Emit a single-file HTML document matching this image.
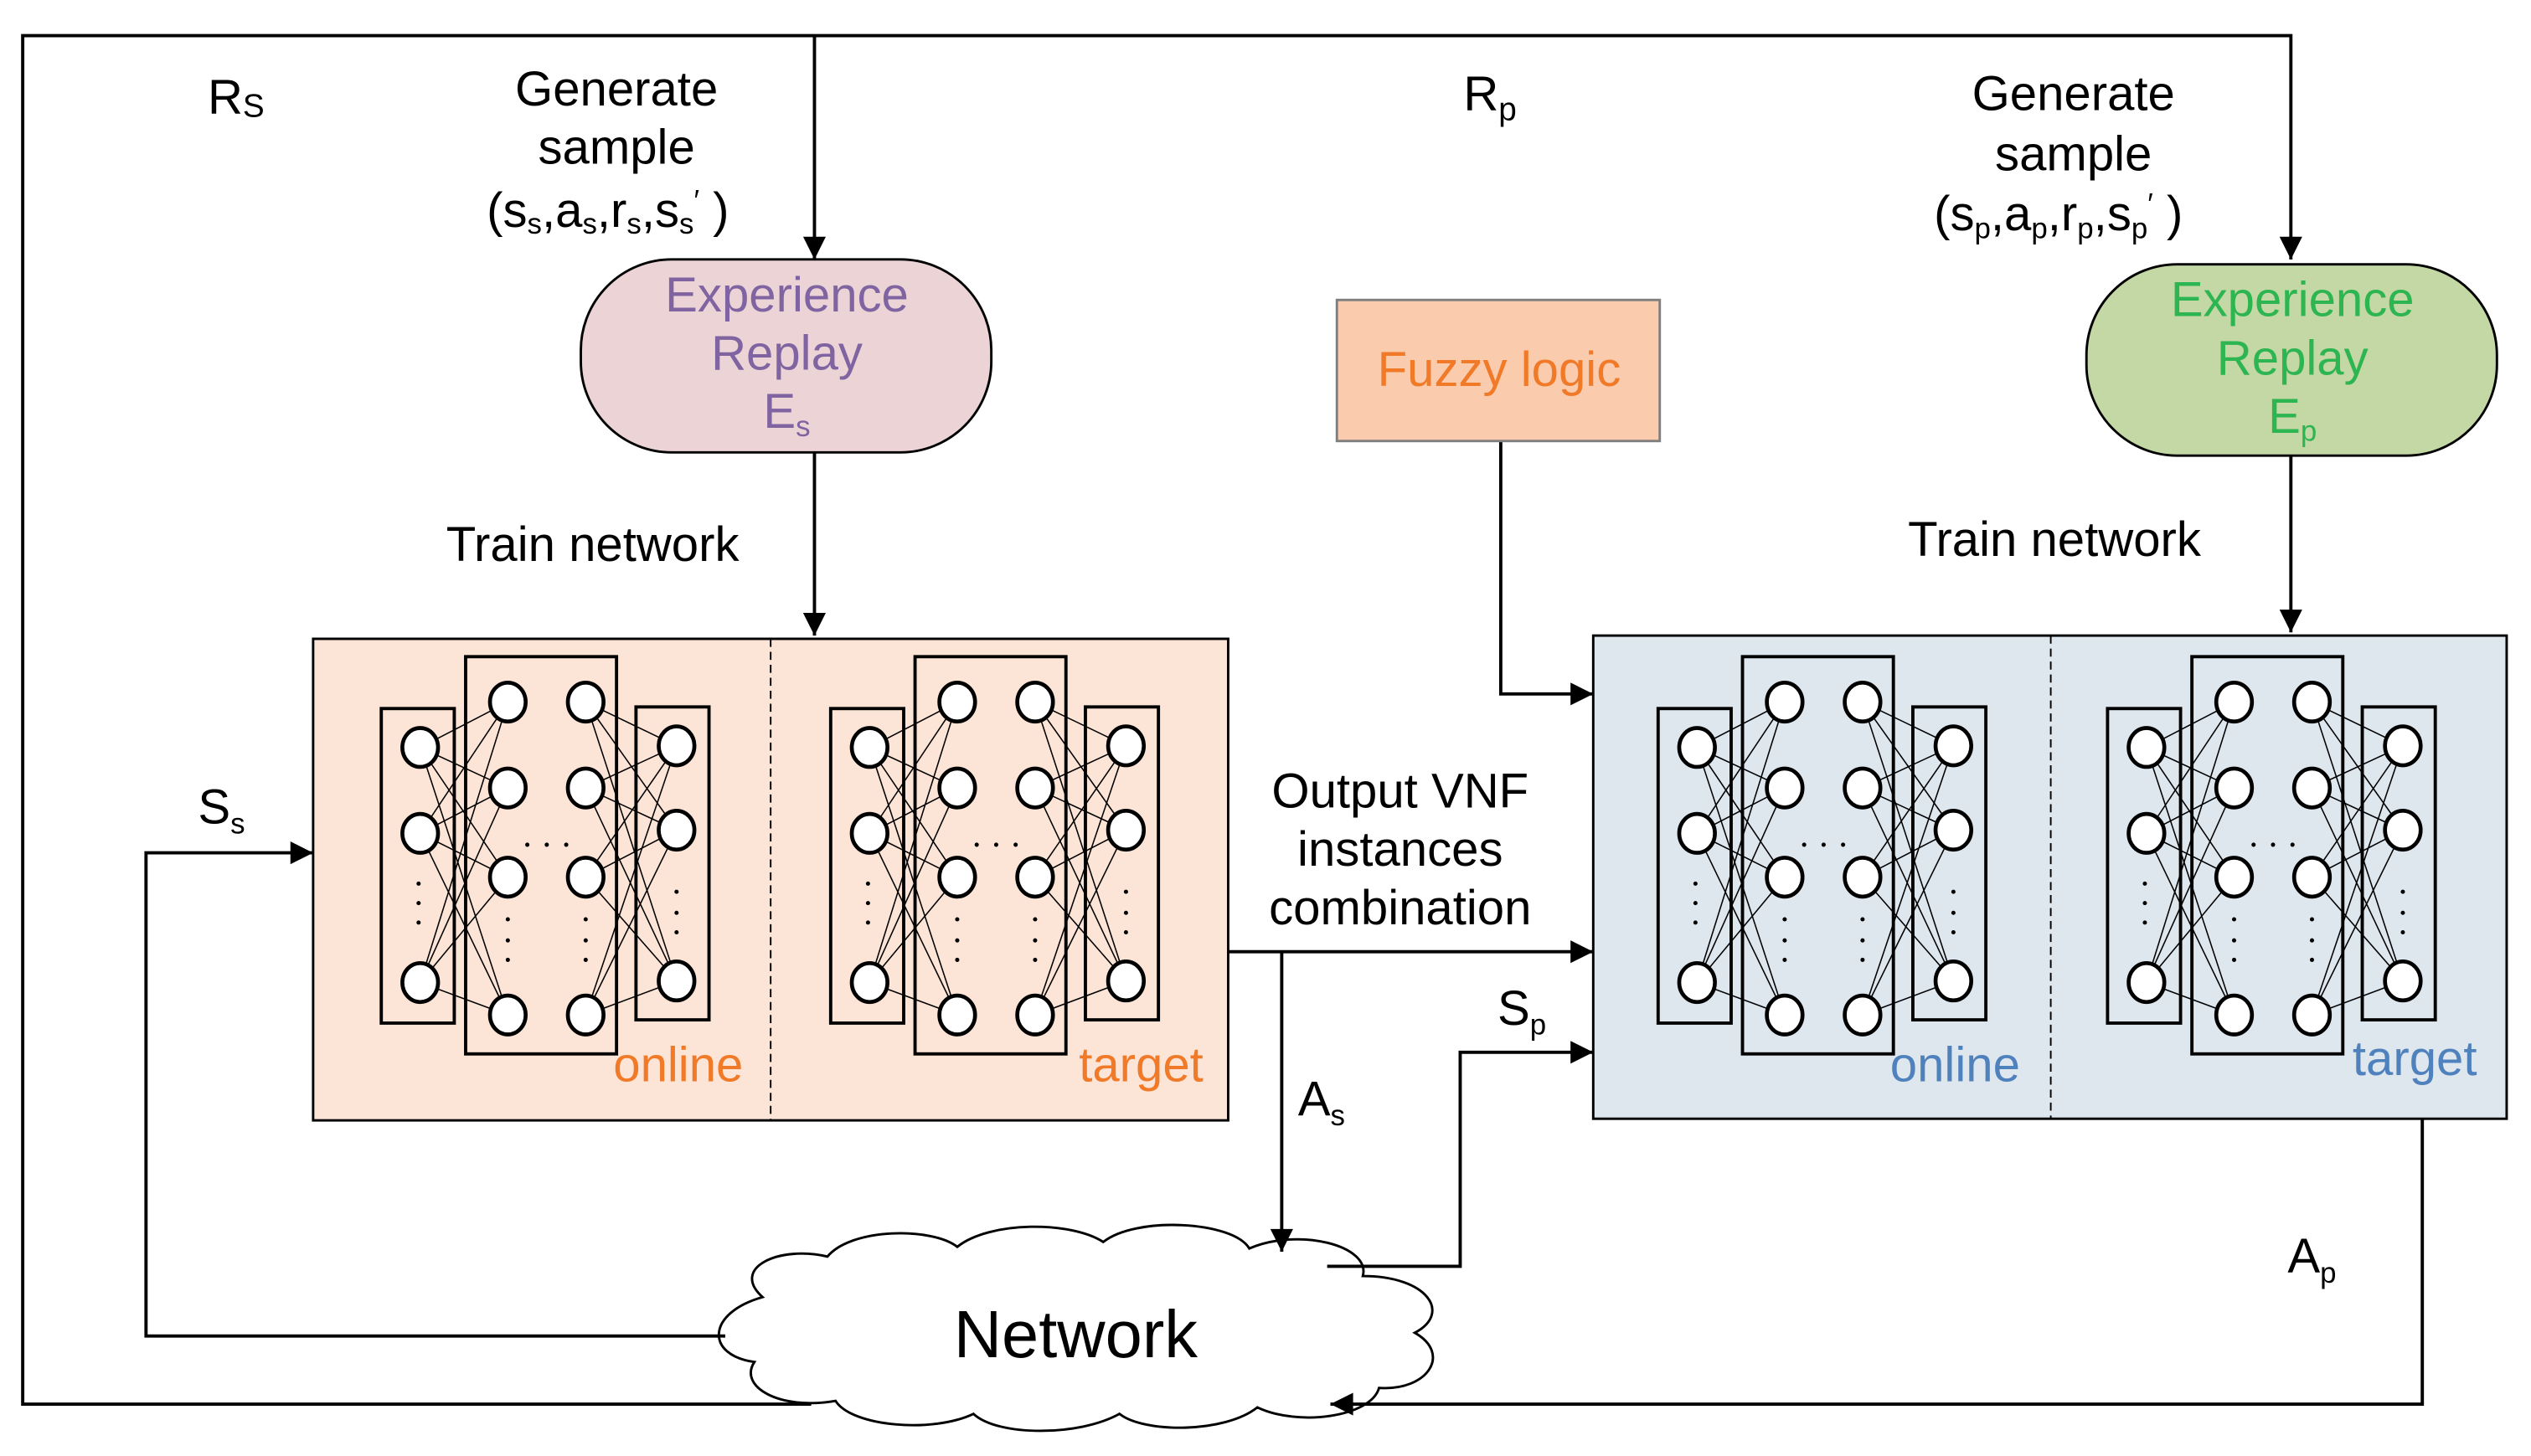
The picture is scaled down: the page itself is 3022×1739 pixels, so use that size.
<!DOCTYPE html>
<html><head><meta charset="utf-8"><style>
html,body{margin:0;padding:0;background:#fff;}
svg{display:block;}
text{font-family:"Liberation Sans","DejaVu Sans",sans-serif;}
</style></head><body>
<svg width="3022" height="1739" viewBox="0 0 1560 898" preserveAspectRatio="none" xmlns="http://www.w3.org/2000/svg">
<defs>
<marker id="ar" viewBox="0 0 10 10" refX="10" refY="5" markerWidth="17" markerHeight="14" markerUnits="userSpaceOnUse" orient="auto">
<path d="M0,0 L10,5 L0,10 z" fill="#000"/></marker>
<g id="net">
 <g stroke="#000" stroke-width="0.8" fill="none">
  <path d="M259,461 L313,433 M259,461 L313,486 M259,461 L313,541 M259,461 L313,626
           M259,514 L313,433 M259,514 L313,486 M259,514 L313,541 M259,514 L313,626
           M259,606 L313,433 M259,606 L313,486 M259,606 L313,541 M259,606 L313,626
           M361,433 L417,460 M361,433 L417,512 M361,433 L417,605
           M361,486 L417,460 M361,486 L417,512 M361,486 L417,605
           M361,541 L417,460 M361,541 L417,512 M361,541 L417,605
           M361,626 L417,460 M361,626 L417,512 M361,626 L417,605"/>
 </g>
 <g stroke="#000" stroke-width="2" fill="none">
  <rect x="235" y="437" width="45" height="194"/>
  <rect x="287" y="405" width="93" height="245"/>
  <rect x="392" y="436" width="45" height="193"/>
 </g>
 <g stroke="#000" stroke-width="2.4" fill="#fff">
  <ellipse cx="259" cy="461" rx="11" ry="12"/><ellipse cx="259" cy="514" rx="11" ry="12"/><ellipse cx="259" cy="606" rx="11" ry="12"/>
  <ellipse cx="313" cy="433" rx="11" ry="12"/><ellipse cx="313" cy="486" rx="11" ry="12"/><ellipse cx="313" cy="541" rx="11" ry="12"/><ellipse cx="313" cy="626" rx="11" ry="12"/>
  <ellipse cx="361" cy="433" rx="11" ry="12"/><ellipse cx="361" cy="486" rx="11" ry="12"/><ellipse cx="361" cy="541" rx="11" ry="12"/><ellipse cx="361" cy="626" rx="11" ry="12"/>
  <ellipse cx="417" cy="460" rx="11" ry="12"/><ellipse cx="417" cy="512" rx="11" ry="12"/><ellipse cx="417" cy="605" rx="11" ry="12"/>
 </g>
 <g fill="#000">
  <circle cx="258" cy="545" r="1.3"/><circle cx="258" cy="557" r="1.3"/><circle cx="258" cy="569" r="1.3"/>
  <circle cx="313" cy="567" r="1.3"/><circle cx="313" cy="580" r="1.3"/><circle cx="313" cy="592" r="1.3"/>
  <circle cx="361" cy="567" r="1.3"/><circle cx="361" cy="580" r="1.3"/><circle cx="361" cy="592" r="1.3"/>
  <circle cx="417" cy="550" r="1.3"/><circle cx="417" cy="563" r="1.3"/><circle cx="417" cy="575" r="1.3"/>
  <circle cx="325" cy="521" r="1.3"/><circle cx="337" cy="521" r="1.3"/><circle cx="349" cy="521" r="1.3"/>
 </g>
</g>
</defs>

<!-- cloud (drawn first) -->
<path d="M470,800 C450,782 480,768 510,775 C525,757 575,757 590,769 C610,753 660,753 680,766 C700,750 760,753 770,770 C800,757 845,768 840,787 C880,787 895,810 872,822 C895,835 880,858 850,856 C845,874 800,880 775,868 C755,884 705,884 690,872 C665,886 615,886 600,872 C575,884 525,880 515,864 C480,870 455,855 465,840 C435,836 435,810 470,800 Z" fill="#fff" stroke="#000" stroke-width="1.5"/>
<text x="663" y="837" font-size="41" text-anchor="middle" fill="#000">Network</text>

<g stroke="#000" stroke-width="2" fill="none">
 <path d="M500,866 L14,866 L14,22 L1412,22 L1412,160" marker-end="url(#ar)"/>
 <path d="M502,22 L502,160" marker-end="url(#ar)"/>
 <path d="M502,279 L502,392" marker-end="url(#ar)"/>
 <path d="M1412,281 L1412,390" marker-end="url(#ar)"/>
 <path d="M925,272 L925,428 L982,428" marker-end="url(#ar)"/>
 <path d="M757,587 L982,587" marker-end="url(#ar)"/>
 <path d="M790,587 L790,772" marker-end="url(#ar)"/>
 <path d="M818,781 L900,781 L900,649 L982,649" marker-end="url(#ar)"/>
 <path d="M447,824 L90,824 L90,526 L193,526" marker-end="url(#ar)"/>
 <path d="M1493,690 L1493,866 L820,866" marker-end="url(#ar)"/>
</g>

<rect x="358" y="160" width="253" height="119" rx="56" fill="#ecd4d6" stroke="#000" stroke-width="1.5"/>
<g fill="#8064a2" font-size="30" text-anchor="middle">
 <text x="485" y="192">Experience</text><text x="485" y="228">Replay</text>
 <text x="485" y="264">E<tspan font-size="18" dy="5">s</tspan></text>
</g>
<rect x="1286" y="163" width="253" height="118" rx="56" fill="#c3d8a4" stroke="#000" stroke-width="1.5"/>
<g fill="#2db552" font-size="30" text-anchor="middle">
 <text x="1413" y="195">Experience</text><text x="1413" y="231">Replay</text>
 <text x="1413" y="267">E<tspan font-size="18" dy="5">p</tspan></text>
</g>

<rect x="824" y="185" width="199" height="87" fill="#fbcbad" stroke="#7f7f7f" stroke-width="1.5"/>
<text x="924" y="238" font-size="30" fill="#f07a28" text-anchor="middle">Fuzzy logic</text>

<rect x="193" y="394" width="564" height="297" fill="#fce4d6" stroke="#000" stroke-width="1.5"/>
<line x1="475" y1="394" x2="475" y2="691" stroke="#000" stroke-width="1" stroke-dasharray="5,3"/>
<use href="#net"/>
<use href="#net" transform="translate(277,0)"/>
<text x="378" y="667" font-size="30" fill="#f07a28">online</text>
<text x="665" y="667" font-size="30" fill="#f07a28">target</text>

<rect x="982" y="392" width="563" height="298" fill="#dee6ee" stroke="#000" stroke-width="1.5"/>
<line x1="1264" y1="392" x2="1264" y2="690" stroke="#000" stroke-width="1" stroke-dasharray="5,3"/>
<use href="#net" transform="translate(787,0)"/>
<use href="#net" transform="translate(1064,0)"/>
<text x="1165" y="667" font-size="30" fill="#4f81bd">online</text>
<text x="1450" y="663" font-size="30" fill="#4f81bd">target</text>

<g font-size="30" fill="#000">
 <text x="128" y="70">R<tspan font-size="20" dy="2">S</tspan></text>
 <text x="902" y="68">R<tspan font-size="20" dy="6">p</tspan></text>
 <text x="380" y="65" text-anchor="middle">Generate</text>
 <text x="380" y="101" text-anchor="middle">sample</text>
 <text x="300" y="140">(s<tspan font-size="18" dy="4">s</tspan><tspan dy="-4">,a</tspan><tspan font-size="18" dy="4">s</tspan><tspan dy="-4">,r</tspan><tspan font-size="18" dy="4">s</tspan><tspan dy="-4">,s</tspan><tspan font-size="18" dy="4">s</tspan><tspan font-size="18" dy="-14">′</tspan><tspan dy="10"> )</tspan></text>
 <text x="1278" y="68" text-anchor="middle">Generate</text>
 <text x="1278" y="105" text-anchor="middle">sample</text>
 <text x="1192" y="142">(s<tspan font-size="18" dy="5">p</tspan><tspan dy="-5">,a</tspan><tspan font-size="18" dy="5">p</tspan><tspan dy="-5">,r</tspan><tspan font-size="18" dy="5">p</tspan><tspan dy="-5">,s</tspan><tspan font-size="18" dy="5">p</tspan><tspan font-size="18" dy="-15">′</tspan><tspan dy="10">  )</tspan></text>
 <text x="275" y="346">Train network</text>
 <text x="1176" y="343">Train network</text>
 <text x="863" y="498" text-anchor="middle">Output  VNF</text>
 <text x="863" y="534" text-anchor="middle">instances</text>
 <text x="863" y="570" text-anchor="middle">combination</text>
 <text x="122" y="508">S<tspan font-size="18" dy="6">s</tspan></text>
 <text x="800" y="688">A<tspan font-size="18" dy="6">s</tspan></text>
 <text x="923" y="632">S<tspan font-size="18" dy="6">p</tspan></text>
 <text x="1410" y="785">A<tspan font-size="18" dy="6">p</tspan></text>
</g>
</svg>
</body></html>
